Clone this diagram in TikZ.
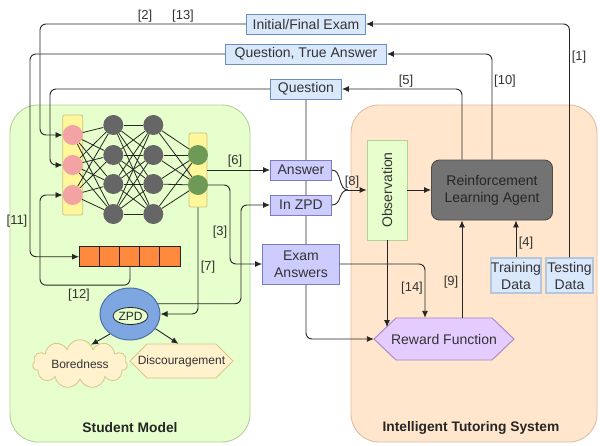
\documentclass[tikz,border=0pt]{standalone}
\usepackage{fontspec}
\setmainfont{Liberation Sans}
\usetikzlibrary{arrows.meta,calc,shapes.geometric,shapes.symbols,backgrounds}

\definecolor{qfill}{HTML}{DAE8FC}
\definecolor{qbord}{HTML}{6C8EBF}
\definecolor{pfill}{HTML}{CCCCFF}
\definecolor{pbord}{HTML}{7C7CC4}
\definecolor{smfill}{HTML}{E6FFCC}
\definecolor{smbord}{HTML}{B5CF98}
\definecolor{obsbord}{HTML}{B3D48F}
\definecolor{itsfill}{HTML}{FFE6CC}
\definecolor{itsbord}{HTML}{E0BBA2}
\definecolor{rlfill}{HTML}{737373}
\definecolor{rffill}{HTML}{E5CCFF}
\definecolor{rfbord}{HTML}{A585C8}
\definecolor{pinkcol}{HTML}{F4A3A5}
\definecolor{layery}{HTML}{FFF799}
\definecolor{layerb}{HTML}{C9C28A}
\definecolor{greycol}{HTML}{666666}
\definecolor{greencol}{HTML}{6D9B57}
\definecolor{arrfill}{HTML}{FF8A3D}
\definecolor{zpdfill}{HTML}{7EA6E0}
\definecolor{zpdbord}{HTML}{4D6FA8}
\definecolor{emofill}{HTML}{FFF2CC}
\definecolor{emobord}{HTML}{D9C58A}
\definecolor{databord}{HTML}{B4C7DD}

\begin{document}
\begin{tikzpicture}[x=1pt,y=-1pt,>={Latex[length=7pt,width=6pt]},
  conn/.style={draw=black!85,line width=0.9pt,rounded corners=6},
  wire/.style={draw=black!85,line width=0.8pt},
  qbox/.style={draw=qbord,fill=qfill,line width=0.9pt,inner sep=0pt,align=center,text=black!80,font=\fontsize{14}{17}\selectfont},
  abox/.style={qbox,draw=pbord,fill=pfill},
  dbox/.style={qbox,draw=databord,line width=1.2pt,minimum height=35},
  num/.style={inner sep=0pt,text=black!80,font=\fontsize{13}{15}\selectfont},
  title/.style={inner sep=0pt,text=black!85,font=\fontsize{13.8}{16}\selectfont\bfseries},
  neuron/.style={circle,inner sep=0pt,minimum size=20},
  layerbar/.style={draw=layerb,fill=layery,rounded corners=2,line width=0.8pt,minimum width=20},
  emo/.style={draw=emobord,fill=emofill,line width=0.8pt,inner sep=0pt,text=black!80,font=\fontsize{12}{14}\selectfont}
]
\useasboundingbox (0,0) rectangle (600,445);

% boxes on top
\node[qbox,minimum width=119,minimum height=20] (exam) at (306,24) {Initial/Final Exam};
\node[qbox,minimum width=161,minimum height=20] (qta) at (306,54) {Question, True Answer};
\node[qbox,minimum width=71,minimum height=20] (q) at (306,89) {Question};

% what the student gives back
\node[abox,minimum width=61,minimum height=20] (ans) at (301,170) {Answer};
\node[abox,minimum width=61,minimum height=20] (inzpd) at (301,205) {In ZPD};
\node[abox,minimum width=77,minimum height=40] (examans) at (301,264) {Exam\\Answers};

% tutoring system
\node[draw=obsbord,fill=smfill,line width=0.9pt,minimum width=40,minimum height=100] (obs) at (387,190) {};
\node[rotate=90,inner sep=0pt,text=black!80,font=\fontsize{14}{17}\selectfont] (obstext) at (obs) {Observation};
\node[draw=black!70,fill=rlfill,rounded corners=8,line width=0.9pt,minimum width=121,minimum height=60,align=center,text=black!85,font=\fontsize{14}{17}\selectfont] (rl) at (492,190) {Reinforcement\\Learning Agent};
\node[dbox,minimum width=50] (train) at (516,275.5) {Training\\Data};
\node[dbox,minimum width=47] (test) at (569.5,275.5) {Testing\\Data};
\draw[draw=rfbord,fill=rffill,line width=0.9pt] (374,339) -- (396,318) -- (492,318) -- (514,339) -- (492,360) -- (396,360) -- cycle;
\node[minimum width=140,minimum height=42,inner sep=0pt,text=black!80,font=\fontsize{14}{17}\selectfont] (rf) at (444,339) {Reward Function};

% network
\node[layerbar,minimum height=100] (inl) at (72.7,165) {};
\node[layerbar,minimum width=18,minimum height=74] (outl) at (198,170) {};
\foreach \i/\y in {1/135,2/165,3/195}
  \node[neuron,fill=pinkcol] (in\i) at (72.7,\y) {};
\foreach \i/\y in {1/125,2/155,3/184,4/214}{
  \node[neuron,fill=greycol] (ha\i) at (113.3,\y) {};
  \node[neuron,fill=greycol] (hb\i) at (153.3,\y) {};
}
\node[neuron,fill=greencol] (out1) at (198,155) {};
\node[neuron,fill=greencol] (out2) at (198,185) {};
\foreach \a in {1,2,3}
  \foreach \b in {1,...,4}
    \draw[wire] (in\a) -- (ha\b);
\foreach \a in {1,...,4}
  \foreach \b in {1,...,4}
    \draw[wire] (ha\a) -- (hb\b);
\foreach \a in {1,...,4}
  \foreach \b in {1,2}
    \draw[wire] (hb\a) -- (out\b);

% memory array
\node[draw=black!85,fill=arrfill,line width=0.9pt,minimum width=101,minimum height=20,inner sep=0pt] (arr) at (130,256.7) {};
\foreach \k in {1,...,4}
  \draw[black!85,line width=0.9pt] ($(arr.north west)+(20.2*\k,0)$) -- ($(arr.south west)+(20.2*\k,0)$);

% zpd and feelings
\node[ellipse,draw=zpdbord,fill=zpdfill,line width=1pt,minimum width=60,minimum height=52] (zpd) at (130,314) {};
\node[ellipse,draw=black!85,fill=smfill,line width=0.8pt,minimum width=35,minimum height=17,inner sep=0pt,text=black!85,font=\fontsize{12}{14}\selectfont] (zpdin) at (130.5,316) {ZPD};
\node[emo,cloud,cloud puffs=11,aspect=2.5,minimum width=95,minimum height=38] (bored) at (80,364) {Boredness};
\draw[emo] (130,361) -- (147,344) -- (216,344) -- (233,361) -- (216,378) -- (147,378) -- cycle;
\node[minimum width=103,minimum height=34,inner sep=0pt,text=black!80,font=\fontsize{12}{14}\selectfont] (disc) at (181.5,361) {Discouragement};

% titles
\node[title] (smtitle) at (130,428) {Student Model};
\node[title] (itstitle) at (471,428) {Intelligent Tutoring System};

% helper columns
\coordinate (xa) at (30,0);
\coordinate (xb) at (40,0);
\coordinate (xc) at (50,0);
\coordinate (xd) at (230,0);
\coordinate (xe) at (241,0);
\coordinate (join) at (348,190);
\coordinate (rfedge) at (387,327);

% into the student
\draw[conn,->] (exam.west) -| (xb |- in1.west) -- (in1.west);
\draw[conn,->] (qta.west) -| (xa |- arr.west) -- (arr.west);
\draw[conn,->] (q.west) -| (xc |- in2.west) -- (in2.west);
\draw[conn,->] (arr.south) -- ++(0,18) -| (xb |- in3.west) -- (in3.west);

% out of the student
\draw[conn,->] (outl.east |- ans.west) -- (ans.west);
\draw[conn,->] (out2.east) -| (xd |- examans.west) -- (examans.west);
\draw[conn,->] (outl.south) |- (zpd.east);
\draw[conn,->] (zpd.20) -| (xe |- inzpd.west) -- (inzpd.west);
\draw[conn,->] (zpd.225) -- (bored.60);
\draw[conn,->] (zpd.330) -- (disc.100);

% tutoring side
\draw[conn] (ans.east) .. controls (342,170) and (338,190) .. (join);
\draw[conn] (inzpd.east) .. controls (342,205) and (338,190) .. (join);
\draw[conn,->] (join) -- (obs.west);
\draw[conn,->] (obs.east) -- (rl.west);
\draw[conn,->] (rl.north) |- (qta.east);
\draw[conn,->] ($(rl.north)+(-30,0)$) |- (q.east);
\draw[conn,->] (test.north) |- (exam.east);
\draw[conn,->] (train.north) -- (train.north |- rl.south);
\draw[conn,->] ($(rf.north)+(18,0)$) -- ($(rl.south)+(-30,0)$);
\draw[conn,->] (examans.east) -| ($(rf.north)+(-19,0)$);
\draw[conn,->] (obs.south) -- (rfedge);

% step numbers
\node[num] (n1) at (579,57) {[1]};
\node[num] (n2) at (145,16) {[2]};
\node[num] (n13) at (183,16) {[13]};
\node[num] (n3) at (220,232) {[3]};
\node[num] (n4) at (526,243) {[4]};
\node[num] (n5) at (406,81) {[5]};
\node[num] (n6) at (235,161) {[6]};
\node[num] (n7) at (208,267) {[7]};
\node[num] (n8) at (352,182) {[8]};
\node[num] (n9) at (451,282) {[9]};
\node[num] (n10) at (505,81) {[10]};
\node[num] (n11) at (17,221) {[11]};
\node[num] (n12) at (79,295) {[12]};
\node[num] (n14) at (412,288) {[14]};

\begin{pgfonlayer}{background}
  % frames
  \draw[draw=smbord,fill=smfill,line width=0.9pt,rounded corners=28] (10,105) rectangle (250,442);
  \draw[draw=itsbord,fill=itsfill,line width=0.9pt,rounded corners=28] (351,105) rectangle (597,442);
  % question line runs behind the boxes
  \draw[conn,->] (q.south) |- (rf.west);
\end{pgfonlayer}
\end{tikzpicture}
\end{document}
